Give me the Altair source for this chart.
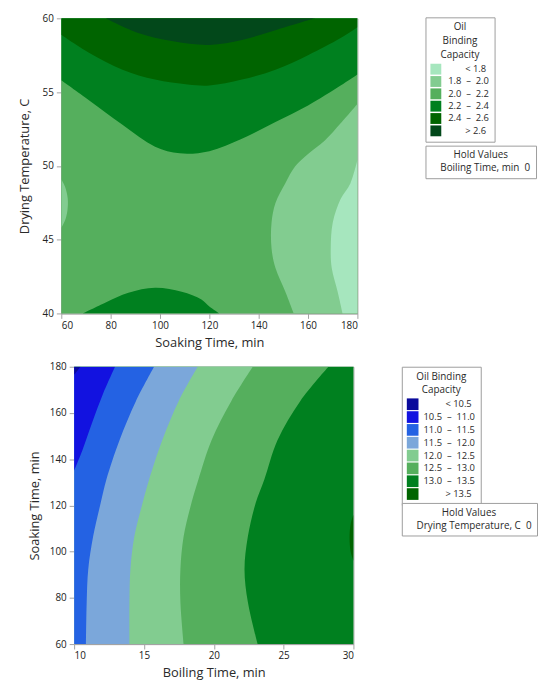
import altair as alt
import pandas as pd

FONT = "Open Sans"
SP = "\u00a0"   # non-breaking space, kept by the SVG text
ZW = "\u200b"   # zero-width lead so that the padding spaces are not trimmed


def rng(a, b):
    return a + SP * 2 + "–" + SP * 2 + b


# ---------------- top panel: Drying Temperature vs Soaking Time ----------------
top_bands = [ZW + SP * 7 + "< 1.8", rng("1.8", "2.0"), rng("2.0", "2.2"), rng("2.2", "2.4"), rng("2.4", "2.6"),
             ZW + SP * 7 + "> 2.6"]
top_colors = ["#a6e6be", "#82cc90", "#55af5d", "#00801f", "#006400", "#02481a"]
soak_ticks = [60, 80, 100, 120, 140, 160, 180]
dry_ticks = [40, 45, 50, 55, 60]

# contour boundaries (drying temp as a function of soaking time)
c22_soak = [60, 71.2, 84.8, 98, 108, 120, 133.2, 146.8, 160, 173.2, 180]
c22_dry = [55.8, 54.45, 52.78, 51.3, 50.85, 51.0, 51.84, 52.98, 54.1, 55.45, 56.2]
c24_soak = [60, 71.2, 84.8, 98, 111.2, 120, 133.2, 146.8, 160, 173.2, 180]
c24_dry = [58.88, 57.66, 56.52, 55.85, 55.52, 55.45, 55.85, 56.52, 57.5, 58.66, 59.4]
c26_soak = [78, 91.2, 104.8, 120, 133.2, 146.8, 160, 163]
c26_dry = [60, 59.0, 58.46, 58.2, 58.53, 59.2, 59.87, 60]
bump_soak = [68.8, 78, 87.2, 98, 108.8, 116.8, 120, 124]
bump_dry = [40, 40.74, 41.4, 41.74, 41.47, 40.94, 40.47, 40]
# soaking time as a function of drying temp
c20_dry = [54.2, 52.9, 51.7, 50.8, 49.97, 48.83, 47.49, 46.15, 44.41, 43.08, 41.47, 40.0]
c20_soak = [180, 173.3, 166.7, 160, 154.8, 150.8, 146.8, 145.2, 145.2, 146.8, 150.8, 154.2]
c18_dry = [50.4, 48.83, 47.76, 46.15, 44.41, 43.08, 41.47, 40.0]
c18_soak = [180, 177.2, 173.2, 170, 169.2, 169.6, 172, 174]
left_dry = [49.1, 48.6, 47.8, 47.0, 46.3, 45.8]
left_soak = [60, 61.5, 62.6, 62.5, 61.5, 60]

# ---------------- bottom panel: Soaking Time vs Boiling Time ----------------
bot_bands = [ZW + SP * 9 + "< 10.5", rng("10.5", "11.0"), rng("11.0", "11.5"), rng("11.5", "12.0"),
             rng("12.0", "12.5"), rng("12.5", "13.0"), rng("13.0", "13.5"), ZW + SP * 9 + "> 13.5"]
bot_colors = ["#0a0a9c", "#1212e0", "#2462e3", "#7ba7da", "#82cc90", "#55af5d", "#00801f", "#006400"]
boil_ticks = [10, 15, 20, 25, 30]
soakb_ticks = [60, 80, 100, 120, 140, 160, 180]

lv_soak = [180, 165.2, 148.2, 131.2, 121, 106.5, 92.3, 78.2, 60]
c130_boil = [28.21, 26.2, 24.56, 23.62, 23.0, 22.44, 22.2, 22.44, 23.14]
c125_boil = [22.79, 21.26, 19.84, 18.9, 18.4, 17.84, 17.61, 17.61, 17.84]
c120_boil = [18.85, 17.49, 16.31, 15.37, 14.9, 14.31, 14.03, 13.96, 13.96]
c115_boil = [15.72, 14.43, 13.25, 12.31, 11.9, 11.36, 11.01, 10.9, 10.85]
c110_soak = [180, 168, 156, 144, 135]
c110_boil = [12.93, 12.05, 11.3, 10.6, 10.0]
c105_soak = [180, 178, 176.5]
c105_boil = [10.45, 10.2, 10.0]
c135_soak = [116, 112, 106, 100, 96]
c135_boil = [30, 29.8, 29.72, 29.8, 30]


def legend_common(**kw):
    base = dict(orient="none", strokeColor="#9c9c9c", fillColor="white", padding=5,
                titleAnchor="middle", titleAlign="center", titleFont=FONT, titleFontSize=10,
                titleFontWeight="normal", titleColor="#2a2a2a", titleLineHeight=14,
                labelFont=FONT, labelFontSize=9.5, labelColor="#2a2a2a")
    base.update(kw)
    return alt.Legend(**base)


AREA = dict(interpolate="catmull-rom", clip=True)

# ---- top chart ----
xt = alt.X("soak:Q", scale=alt.Scale(domain=[60, 180], nice=False, zero=False),
           axis=alt.Axis(values=soak_ticks, title="Soaking Time, min", titlePadding=6))
yt = alt.Y("dry:Q", scale=alt.Scale(domain=[40, 60], nice=False, zero=False),
           axis=alt.Axis(values=dry_ticks, title="Drying Temperature, C", titlePadding=11))
ct = alt.Color("band:N", scale=alt.Scale(domain=top_bands, range=top_colors),
               legend=legend_common(title=["Oil", "Binding", "Capacity"], legendX=369, legendY=-1,
                                    symbolType="square", symbolSize=121, symbolStrokeWidth=0,
                                    rowPadding=1.5, labelOffset=7, titlePadding=4))


def top_frame(xs, ys, band):
    return pd.DataFrame({"soak": [xs[0]], "soak2": [xs[1]], "dry": [ys[0]], "dry2": [ys[1]], "band": [band]})


def top_curve(xs, ys, edge, band):
    return pd.DataFrame({"soak": xs, "dry": ys, "edge": [edge] * len(xs), "band": [band] * len(xs)})


t_base = alt.Chart(top_frame([60, 180], [40, 60], top_bands[2])).mark_rect().encode(
    x=xt, x2="soak2:Q", y=yt, y2="dry2:Q", color=ct)


def tv(xs, ys, edge, band):
    return alt.Chart(top_curve(xs, ys, edge, band)).mark_area(orient="vertical", **AREA).encode(
        x=xt, y=yt, y2="edge:Q", color=ct)


def th(xs, ys, edge, band):
    return alt.Chart(top_curve(xs, ys, edge, band)).mark_area(orient="horizontal", **AREA).encode(
        x=xt, x2="edge:Q", y=yt, color=ct)


t_hold = alt.Chart(pd.DataFrame({"hold": ["Boiling Time, min" + SP * 2 + "0"]})).mark_point(opacity=0).encode(
    x=alt.value(150), y=alt.value(150), size=alt.value(4),
    shape=alt.Shape("hold:N", legend=legend_common(title="Hold Values", legendX=369, legendY=129,
                                                   symbolSize=0, symbolOpacity=0, labelOffset=0,
                                                   titlePadding=3, labelFontSize=10)))

top = alt.layer(
    t_base,
    tv(c22_soak, c22_dry, 60, top_bands[3]),
    tv(c24_soak, c24_dry, 60, top_bands[4]),
    tv(c26_soak, c26_dry, 60, top_bands[5]),
    tv(bump_soak, bump_dry, 40, top_bands[3]),
    th(c20_soak, c20_dry, 180, top_bands[1]),
    th(c18_soak, c18_dry, 180, top_bands[0]),
    th(left_soak, left_dry, 60, top_bands[1]),
    t_hold,
).properties(width=300, height=299)

# ---- bottom chart ----
xb = alt.X("boil:Q", scale=alt.Scale(domain=[10, 30], nice=False, zero=False),
           axis=alt.Axis(values=boil_ticks, title="Boiling Time, min", titlePadding=6))
yb = alt.Y("soakb:Q", scale=alt.Scale(domain=[60, 180], nice=False, zero=False),
           axis=alt.Axis(values=soakb_ticks, title="Soaking Time, min", titlePadding=8))
cb = alt.Color("bandb:N", scale=alt.Scale(domain=bot_bands, range=bot_colors),
               legend=legend_common(title=["Oil Binding", "Capacity"], legendX=332, legendY=0,
                                    symbolType="square", symbolSize=140, symbolStrokeWidth=0,
                                    rowPadding=1, labelOffset=5, titlePadding=3))


def bot_frame(xs, ys, band):
    return pd.DataFrame({"boil": [xs[0]], "boil2": [xs[1]], "soakb": [ys[0]], "soakb2": [ys[1]], "bandb": [band]})


def bot_curve(boils, soaks, edge, band):
    return pd.DataFrame({"boil": boils, "soakb": soaks, "edge": [edge] * len(boils), "bandb": [band] * len(boils)})


b_base = alt.Chart(bot_frame([10, 30], [60, 180], bot_bands[6])).mark_rect().encode(
    x=xb, x2="boil2:Q", y=yb, y2="soakb2:Q", color=cb)


def bh(soaks, boils, edge, band):
    return alt.Chart(bot_curve(boils, soaks, edge, band)).mark_area(orient="horizontal", **AREA).encode(
        x=xb, x2="edge:Q", y=yb, color=cb)


b_hold = alt.Chart(pd.DataFrame({"holdb": ["Drying Temperature, C" + SP * 2 + "0"]})).mark_point(opacity=0).encode(
    x=alt.value(140), y=alt.value(140), size=alt.value(4),
    shape=alt.Shape("holdb:N", legend=legend_common(title="Hold Values", legendX=332, legendY=138,
                                                    symbolSize=0, symbolOpacity=0, labelOffset=0,
                                                    titlePadding=3, labelFontSize=10)))

bottom = alt.layer(
    b_base,
    bh(lv_soak, c130_boil, 10, bot_bands[5]),
    bh(lv_soak, c125_boil, 10, bot_bands[4]),
    bh(lv_soak, c120_boil, 10, bot_bands[3]),
    bh(lv_soak, c115_boil, 10, bot_bands[2]),
    bh(c110_soak, c110_boil, 10, bot_bands[1]),
    bh(c105_soak, c105_boil, 10, bot_bands[0]),
    bh(c135_soak, c135_boil, 30, bot_bands[7]),
    b_hold,
).properties(width=283, height=281)


def spacer(w):
    # empty, invisible cell that indents the panel to its right
    return alt.Chart(pd.DataFrame({"s": [0]})).mark_point(opacity=0).encode(
        x=alt.value(0), y=alt.value(0), size=alt.value(1)
    ).properties(width=w, height=1, view=alt.ViewBackground(stroke="transparent"))


IND = dict(color="independent", shape="independent")

chart = alt.vconcat(
    alt.hconcat(spacer(1), top, spacing=0).resolve_scale(**IND),
    alt.hconcat(spacer(11), bottom, spacing=0).resolve_scale(**IND),
    spacing=11,
).resolve_scale(**IND).properties(
    padding={"left": 7, "top": 0, "right": 0, "bottom": 0}
).configure_view(
    stroke="#a3a3a3", strokeWidth=1
).configure_axis(
    grid=False, labelFont=FONT, labelFontSize=10, labelColor="#222222",
    titleFont=FONT, titleFontSize=13, titleFontWeight="normal", titleColor="#2a2a2a",
    domainColor="#a3a3a3", tickColor="#a3a3a3", tickSize=5
).configure_axisX(labelPadding=2).configure_axisY(labelPadding=3)

chart.save("out.html", embed_options={"renderer": "svg", "actions": False})
